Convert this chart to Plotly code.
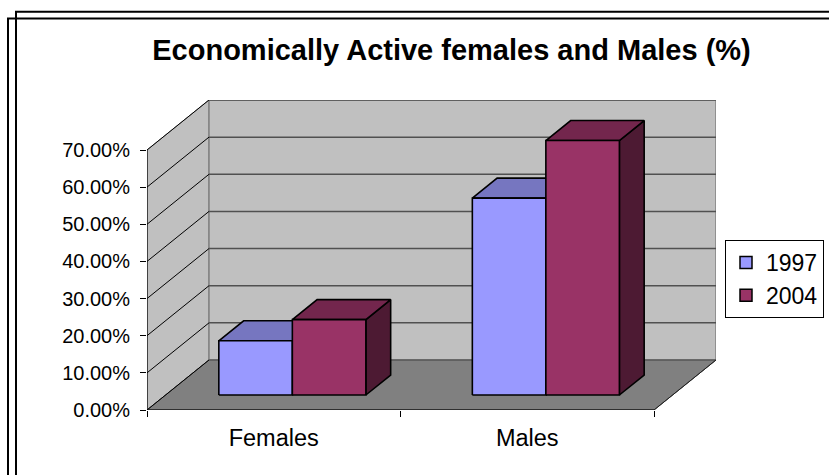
import plotly.graph_objects as go

# ---- data ----
categories = ["Females", "Males"]
series_names = ["1997", "2004"]
values_1997 = [0.146, 0.530]
values_2004 = [0.203, 0.685]
y_tick_values = [0.0, 0.1, 0.2, 0.3, 0.4, 0.5, 0.6, 0.7]
title_text = "Economically Active females and Males (%)"

# ---- styles ----
front_colors = ["#9999FF", "#993366"]
top_colors = ["#7676C0", "#73264D"]
side_colors = ["#5C5C99", "#4D1A33"]
FONT = "Liberation Sans, Arial, sans-serif"

W, H = 829, 475
L_M, R_M, T_M, B_M = 147, 113, 100, 65
plot_w = W - L_M - R_M
plot_h = H - T_M - B_M

n_cat = len(categories)
ymax = y_tick_values[-1]
# oblique depth offset (in axis units)
DX = 0.2445
DY = 0.1346
xrange_ = [0, n_cat + DX]
yrange_ = [0, ymax + DY]

GAP = 0.21
BW = (1 - 2 * GAP) / len(series_names)
D0, D1 = 0.30, 0.70

fig = go.Figure()


def poly(xs, ys, fill, line_color, line_width):
    fig.add_trace(go.Scatter(
        x=list(xs) + [xs[0]], y=list(ys) + [ys[0]], mode="lines",
        fill="toself", fillcolor=fill,
        line=dict(color=line_color, width=line_width),
        showlegend=False, hoverinfo="skip"))


# side wall
poly([0, 0, DX, DX], [0, ymax, ymax + DY, DY], "#C0C0C0", "#808080", 1)
# back wall
poly([DX, DX, n_cat + DX, n_cat + DX], [DY, ymax + DY, ymax + DY, DY],
     "#C0C0C0", "#808080", 1.5)
# floor
poly([0, n_cat, n_cat + DX, DX], [0, 0, DY, DY], "#808080", "#404040", 1)

# gridlines
gx_side, gy_side, gx_back, gy_back = [], [], [], []
for v in y_tick_values:
    gx_side += [0, DX, None]
    gy_side += [v, v + DY, None]
    if v > 0:
        gx_back += [DX, n_cat + DX, None]
        gy_back += [v + DY, v + DY, None]
fig.add_trace(go.Scatter(x=gx_back, y=gy_back, mode="lines",
                         line=dict(color="#505050", width=1.5),
                         showlegend=False, hoverinfo="skip"))
fig.add_trace(go.Scatter(x=gx_side, y=gy_side, mode="lines",
                         line=dict(color="#000000", width=1),
                         showlegend=False, hoverinfo="skip"))

# axis lines (front)
fig.add_trace(go.Scatter(x=[0, n_cat], y=[0, 0], mode="lines",
                         line=dict(color="#000000", width=1.2),
                         showlegend=False, hoverinfo="skip"))
fig.add_trace(go.Scatter(x=[0, 0], y=[0, ymax], mode="lines",
                         line=dict(color="#000000", width=1.2),
                         showlegend=False, hoverinfo="skip"))
# floor right edge
fig.add_trace(go.Scatter(x=[n_cat, n_cat + DX], y=[0, DY], mode="lines",
                         line=dict(color="#202020", width=1),
                         showlegend=False, hoverinfo="skip"))

# bars
all_vals = [values_1997, values_2004]
for i in range(n_cat):
    for j in range(len(series_names)):
        v = all_vals[j][i]
        x0 = i + GAP + j * BW
        x1 = x0 + BW
        ax0, ay0 = D0 * DX, D0 * DY
        ax1, ay1 = D1 * DX, D1 * DY
        # right side face
        poly([x1 + ax0, x1 + ax0, x1 + ax1, x1 + ax1],
             [ay0, v + ay0, v + ay1, ay1], side_colors[j], "#000000", 1.6)
        # top face
        poly([x0 + ax0, x1 + ax0, x1 + ax1, x0 + ax1],
             [v + ay0, v + ay0, v + ay1, v + ay1], top_colors[j], "#000000", 1.6)
        # front face
        poly([x0 + ax0, x1 + ax0, x1 + ax0, x0 + ax0],
             [ay0, ay0, v + ay0, v + ay0], front_colors[j], "#000000", 1.6)

# legend entries
for j, name in enumerate(series_names):
    fig.add_trace(go.Scatter(
        x=[None], y=[None], mode="markers", name=name,
        legendgroup=name,
        marker=dict(symbol="square", size=12, color=front_colors[j],
                    line=dict(color="#000000", width=1.5))))


def px_x(p):
    return (p - L_M) / plot_w


def px_y(p):
    return (H - B_M - p) / plot_h


# double frame
for lx, ty in [(16, 11.8), (8, 18.5)]:
    fig.add_shape(type="rect", xref="paper", yref="paper",
                  x0=px_x(lx), x1=px_x(W + 20), y0=px_y(ty), y1=px_y(H + 20),
                  line=dict(color="#000000", width=2), layer="above")

fig.update_layout(
    width=W, height=H,
    margin=dict(l=L_M, r=R_M, t=T_M, b=B_M, autoexpand=False),
    paper_bgcolor="#FFFFFF", plot_bgcolor="#FFFFFF",
    font=dict(family=FONT, color="#000000"),
    title=dict(text=title_text, x=451.5 / W, xanchor="center",
               y=1 - 50 / H, yanchor="middle",
               font=dict(family=FONT, size=29, weight="bold", color="#000000")),
    showlegend=True,
    legend=dict(x=px_x(824), y=px_y(240), xanchor="right", yanchor="top",
                bordercolor="#000000", borderwidth=1, bgcolor="#FFFFFF",
                font=dict(family=FONT, size=23, color="#000000"),
                tracegroupgap=0, itemwidth=30),
    xaxis=dict(range=xrange_, showgrid=False, zeroline=False, showline=False,
               tickmode="array",
               tickvals=[i + 0.5 for i in range(n_cat)], ticktext=categories,
               ticks="", tickfont=dict(family=FONT, size=23.5, color="#000000"),
               ticklabelstandoff=11,
               minor=dict(tickmode="array", tickvals=list(range(n_cat + 1)),
                          ticks="outside", ticklen=6, tickcolor="#000000",
                          tickwidth=1, showgrid=False),
               fixedrange=True),
    yaxis=dict(range=yrange_, showgrid=False, zeroline=False, showline=False,
               tickmode="array", tickvals=y_tick_values, tickformat=".2%",
               ticks="outside", ticklen=6, tickcolor="#000000", tickwidth=1,
               ticklabelstandoff=6,
               tickfont=dict(family=FONT, size=20, color="#000000"),
               fixedrange=True),
)

fig.write_html("out.html",
               config={"displayModeBar": False, "staticPlot": True},
               post_script="document.body.style.margin='0';"
                           "document.body.style.overflow='hidden';")
